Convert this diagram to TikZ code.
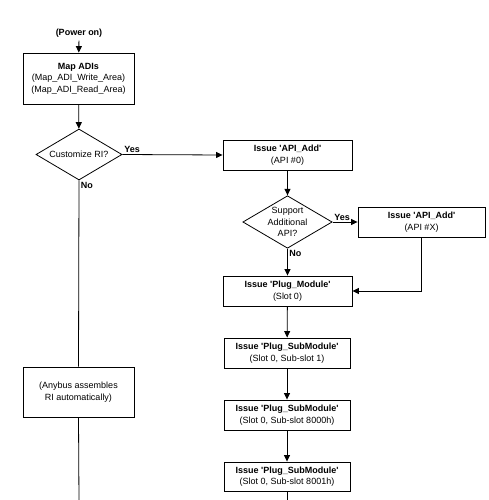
\documentclass[tikz,border=0pt]{standalone}
\usepackage{fontspec}
\setmainfont{Liberation Sans}
\usepackage{tikz}
\usetikzlibrary{arrows.meta, shapes.geometric, positioning}

\begin{document}
\begin{tikzpicture}[x=1pt, y=-1pt, >={Triangle[length=6.5pt,width=6pt]},
    every node/.style={font=\fontsize{9}{11.5}\selectfont},
    box/.style={draw, line width=0.9pt, rectangle, align=center, inner sep=0pt},
    decision/.style={draw, line width=0.8pt, diamond, aspect=1.7, align=center, inner sep=0pt},
    lbl/.style={inner sep=1.5pt, font=\fontsize{9}{11}\selectfont\bfseries},
    flow/.style={line width=0.8pt}]

    % =================================================================
    % 1. PAGE FRAME
    % =================================================================
    \useasboundingbox (0,0) rectangle (488,500);

    % =================================================================
    % 2. LEFT COLUMN
    % =================================================================
    \node[font=\fontsize{9}{11}\selectfont\bfseries] (PowerOn) at (79,33) {(Power on)};

    \node[box, minimum width=111pt, minimum height=51pt] (MapADI) at (78.5,78.5)
        {\textbf{Map ADIs}\\(Map\_ADI\_Write\_Area)\\(Map\_ADI\_Read\_Area)};

    \node[decision, minimum width=86pt, minimum height=51pt] (CustomRI) at (79,154.5)
        {Customize RI?};

    \node[box, minimum width=111pt, minimum height=50pt] (Anybus) at (78.5,392)
        {(Anybus assembles\\RI automatically)};

    \coordinate (LeftEnd) at (79,502);

    % =================================================================
    % 3. RIGHT COLUMN
    % =================================================================
    \node[box, minimum width=129pt, minimum height=30pt] (ApiZero) at (287.5,155)
        {\textbf{Issue \textquotesingle API\_Add\textquotesingle}\\(API \#0)};

    \node[decision, minimum width=85pt, minimum height=50pt] (MoreApi) at (287.5,222)
        {Support\\Additional\\API?};

    \node[box, minimum width=127pt, minimum height=30pt] (ApiX) at (421.5,222)
        {\textbf{Issue \textquotesingle API\_Add\textquotesingle}\\(API \#X)};

    \node[box, minimum width=129pt, minimum height=30pt] (PlugMod) at (287.5,291)
        {\textbf{Issue \textquotesingle Plug\_Module\textquotesingle}\\(Slot 0)};

    \node[box, minimum width=126pt, minimum height=30pt] (SubOne) at (287,353)
        {\textbf{Issue \textquotesingle Plug\_SubModule\textquotesingle}\\(Slot 0, Sub-slot 1)};

    \node[box, minimum width=126pt, minimum height=30pt] (SubTwo) at (287,415)
        {\textbf{Issue \textquotesingle Plug\_SubModule\textquotesingle}\\(Slot 0, Sub-slot 8000h)};

    \node[box, minimum width=126pt, minimum height=29pt] (SubThree) at (287,476.5)
        {\textbf{Issue \textquotesingle Plug\_SubModule\textquotesingle}\\(Slot 0, Sub-slot 8001h)};

    \coordinate (RightEnd) at (287,502);

    % =================================================================
    % 4. CONNECTORS
    % =================================================================
    \draw[flow, ->] (PowerOn) -- (MapADI);
    \draw[flow, ->] (MapADI) -- (CustomRI);
    \draw[flow, ->] (CustomRI.east) -- node[lbl, pos=0, above right] {Yes} (ApiZero.west);
    \draw[flow] (CustomRI.south) -- node[lbl, pos=0, below right] {No} (Anybus.north);
    \draw[flow] (Anybus.south) -- (LeftEnd);

    \draw[flow, ->] (ApiZero) -- (MoreApi);
    \draw[flow, ->] (MoreApi.east) -- node[lbl, pos=0, above right] {Yes} (ApiX.west);
    \draw[flow, ->] (MoreApi.south) -- node[lbl, pos=0, below right] {No} (PlugMod.north);
    \draw[flow, ->] (ApiX.south) |- (PlugMod.east);

    \draw[flow, ->] (PlugMod) -- (SubOne);
    \draw[flow, ->] (SubOne) -- (SubTwo);
    \draw[flow, ->] (SubTwo) -- (SubThree);
    \draw[flow] (SubThree.south) -- (RightEnd);

\end{tikzpicture}
\end{document}
